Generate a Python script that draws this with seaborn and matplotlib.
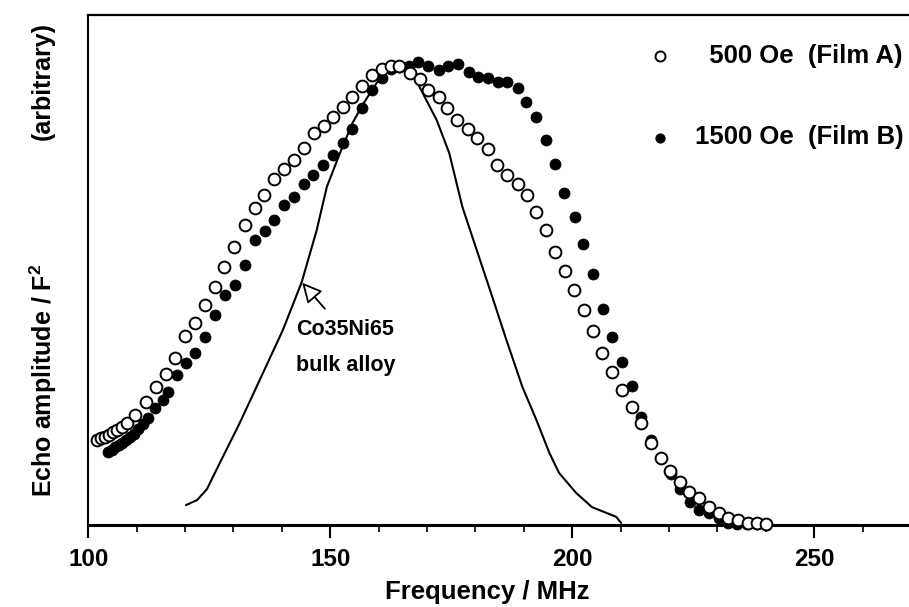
import numpy as np
import pandas as pd
import matplotlib
matplotlib.use('Agg')
import matplotlib.pyplot as plt
import seaborn as sns

# Film A (500 Oe), open circles
freq_a = [101.9, 102.7, 103.5, 104.3, 105.2, 106.0, 107.0, 108.0, 109.7, 112.0,
          114.0, 116.1, 117.9, 120.0, 122.1, 124.1, 126.2, 128.0, 130.1, 132.4,
          134.4, 136.3, 138.4, 140.4, 142.5, 144.5, 146.6, 148.7, 150.5, 152.6,
          154.4, 156.5, 158.6, 160.6, 162.5, 164.3, 166.4, 168.5, 170.3, 172.4,
          174.2, 176.3, 178.4, 180.4, 182.5, 184.5, 186.6, 188.7, 190.7, 192.6,
          194.6, 196.5, 198.6, 200.4, 202.5, 204.3, 206.2, 208.2, 210.3, 212.4,
          214.2, 216.3, 218.4, 220.2, 222.3, 224.1, 226.2, 228.2, 230.3, 232.2,
          234.2, 236.3, 238.1, 240.0]
amp_a = [0.167, 0.171, 0.173, 0.176, 0.182, 0.186, 0.192, 0.200, 0.216, 0.241,
         0.271, 0.296, 0.327, 0.371, 0.396, 0.431, 0.467, 0.506, 0.545, 0.588,
         0.622, 0.647, 0.678, 0.698, 0.716, 0.739, 0.769, 0.782, 0.800, 0.820,
         0.839, 0.861, 0.882, 0.894, 0.900, 0.900, 0.886, 0.875, 0.853, 0.839,
         0.818, 0.794, 0.776, 0.759, 0.737, 0.706, 0.686, 0.669, 0.647, 0.614,
         0.578, 0.535, 0.498, 0.461, 0.422, 0.380, 0.337, 0.300, 0.265, 0.231,
         0.200, 0.161, 0.131, 0.106, 0.084, 0.065, 0.053, 0.035, 0.024, 0.014,
         0.010, 0.004, 0.004, 0.002]

# Film B (1500 Oe), filled circles
freq_b = [104.1, 104.9, 105.6, 106.4, 107.0, 107.8, 108.7, 109.5, 110.3, 111.3,
          112.4, 113.8, 115.5, 116.5, 118.4, 120.2, 122.1, 124.1, 126.2, 128.2,
          130.3, 132.4, 134.4, 136.5, 138.4, 140.4, 142.5, 144.5, 146.4, 148.5,
          150.5, 152.6, 154.4, 156.5, 158.6, 160.6, 162.5, 164.3, 166.2, 168.2,
          170.3, 172.4, 174.4, 176.5, 178.6, 180.6, 182.7, 184.7, 186.6, 188.7,
          190.5, 192.6, 194.6, 196.5, 198.4, 200.6, 202.3, 204.3, 206.4, 208.2,
          210.3, 212.4, 214.2, 216.3, 218.4, 220.4, 222.3, 224.3, 226.2, 228.2,
          230.3, 232.2, 234.0, 236.1, 238.1, 240.0]
amp_b = [0.143, 0.147, 0.153, 0.157, 0.161, 0.167, 0.173, 0.178, 0.188, 0.198,
         0.210, 0.229, 0.245, 0.261, 0.294, 0.318, 0.337, 0.369, 0.412, 0.451,
         0.471, 0.510, 0.559, 0.576, 0.598, 0.627, 0.643, 0.669, 0.686, 0.706,
         0.725, 0.749, 0.776, 0.818, 0.853, 0.876, 0.894, 0.898, 0.900, 0.908,
         0.900, 0.892, 0.900, 0.904, 0.888, 0.878, 0.876, 0.869, 0.869, 0.857,
         0.829, 0.800, 0.755, 0.708, 0.651, 0.604, 0.551, 0.492, 0.424, 0.369,
         0.320, 0.273, 0.212, 0.167, 0.131, 0.100, 0.071, 0.045, 0.029, 0.024,
         0.014, 0.004, 0.002, 0.002, 0.002, 0.0]

# Co35Ni65 bulk alloy, solid line
freq_bulk = [120.2, 122.5, 124.5, 127.2, 131.3, 136.1, 140.2, 144.1, 147.2, 149.3,
             152.0, 154.6, 156.7, 159.6, 162.3, 164.9, 167.0, 169.1, 172.0, 174.6,
             177.3, 180.8, 183.5, 186.4, 189.7, 192.6, 195.3, 197.3, 200.8, 204.1,
             207.0, 209.1, 210.1]
amp_bulk = [0.039, 0.049, 0.070, 0.122, 0.200, 0.298, 0.382, 0.476, 0.578, 0.663,
            0.729, 0.788, 0.824, 0.867, 0.892, 0.902, 0.886, 0.847, 0.794, 0.729,
            0.624, 0.524, 0.447, 0.363, 0.271, 0.206, 0.141, 0.102, 0.063, 0.035,
            0.024, 0.016, 0.004]

x_major = [100, 150, 200, 250]
label_a = '  500 Oe  (Film A)'
label_b = '1500 Oe  (Film B)'

sns.set_style('ticks')
plt.rcParams['font.family'] = ['Liberation Sans', 'DejaVu Sans']
plt.rcParams['font.weight'] = 'bold'
plt.rcParams['axes.labelweight'] = 'bold'
plt.rcParams['text.color'] = 'black'
plt.rcParams['axes.labelcolor'] = 'black'
plt.rcParams['xtick.color'] = 'black'
plt.rcParams['mathtext.fontset'] = 'custom'
plt.rcParams['mathtext.rm'] = 'Liberation Sans:bold'
plt.rcParams['mathtext.bf'] = 'Liberation Sans:bold'
plt.rcParams['mathtext.default'] = 'bf'

df_a = pd.DataFrame({'freq': freq_a, 'amp': amp_a})
df_b = pd.DataFrame({'freq': freq_b, 'amp': amp_b})
df_bulk = pd.DataFrame({'freq': freq_bulk, 'amp': amp_bulk})

fig = plt.figure(figsize=(9.09, 6.07), dpi=100)
ax = fig.add_axes([0.0971, 0.1351, 0.9029, 0.8402])

sns.lineplot(data=df_bulk, x='freq', y='amp', ax=ax, color='black', linewidth=1.5)
sns.scatterplot(data=df_b, x='freq', y='amp', ax=ax, marker='o', s=62, color='black',
                edgecolor='black', linewidth=0.6, label=label_b, clip_on=False, zorder=3)
sns.scatterplot(data=df_a, x='freq', y='amp', ax=ax, marker='o', s=72, color='white',
                edgecolor='black', linewidth=1.4, label=label_a, clip_on=False, zorder=4)

ax.set_xlim(100, 269.6)
ax.set_ylim(0, 1)
ax.set_xticks(x_major)
ax.set_xticks(np.arange(100, 270, 10), minor=True)
ax.set_yticks([])
ax.tick_params(axis='x', which='major', direction='out', length=9.5, width=1.5,
               labelsize=17.5, pad=7)
ax.tick_params(axis='x', which='minor', direction='out', length=5, width=1.2)

ax.spines['right'].set_visible(False)
ax.spines['bottom'].set_linewidth(2.2)
ax.spines['left'].set_linewidth(1.5)
ax.spines['top'].set_linewidth(1.6)
for sp in ax.spines.values():
    sp.set_color('black')

ax.set_xlabel('Frequency / MHz', fontsize=18.5, fontweight='bold', va='center')
ax.xaxis.set_label_coords(0.486, -0.131)
ax.set_ylabel('Echo amplitude / F$^2$', fontsize=18, fontweight='bold', va='center')
ax.yaxis.set_label_coords(-0.0552, 0.284)
ax.text(-0.0552, 0.871, '(arbitrary)', transform=ax.transAxes, rotation=90,
        ha='center', va='center', fontsize=18, fontweight='bold')

# arrow + label for the bulk alloy curve
ax.annotate('', xy=(144.2, 0.475), xytext=(148.9, 0.424),
            arrowprops=dict(arrowstyle='-|>,head_length=1.2,head_width=0.6',
                            fc='white', ec='black', lw=1.3, shrinkA=0, shrinkB=0))
ax.text(143.0, 0.384, 'Co35Ni65', ha='left', va='center', fontsize=15.5)
ax.text(143.0, 0.312, 'bulk alloy', ha='left', va='center', fontsize=15.5)

handles, labels = ax.get_legend_handles_labels()
order = [labels.index(label_a), labels.index(label_b)]
ax.legend([handles[i] for i in order], [labels[i] for i in order],
          loc='upper right', bbox_to_anchor=(0.993, 0.944), frameon=False,
          fontsize=18.5, handlelength=1.0, handletextpad=0.85, labelspacing=2.25,
          borderpad=0, borderaxespad=0, markerscale=0.85)

fig.savefig('out.png', dpi=100)
